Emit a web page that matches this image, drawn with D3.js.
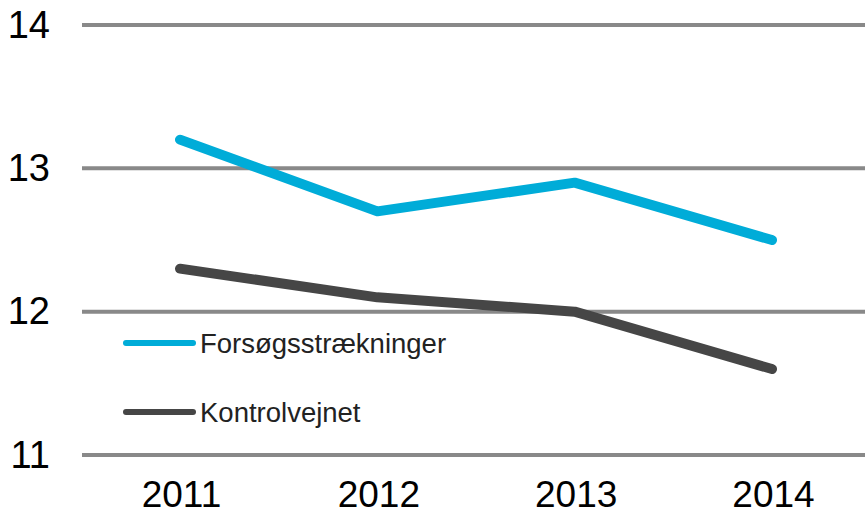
<!DOCTYPE html>
<html>
<head>
<meta charset="utf-8">
<script src="https://cdn.jsdelivr.net/npm/d3@7"></script>
<style>
  body { margin: 0; background: #fff; }
  svg text { font-family: "Liberation Sans", Arial, sans-serif; }
</style>
</head>
<body>
<div id="chart"></div>
<script>
const years = ["2011", "2012", "2013", "2014"];
const forsoeg = [13.2, 12.7, 12.9, 12.5];
const kontrol = [12.3, 12.1, 12.0, 11.6];
const y_ticks = [11, 12, 13, 14];
const series_names = ["Forsøgsstrækninger", "Kontrolvejnet"];

const width = 865;
const height = 515;

let svg = d3.select("#chart").append("svg")
    .attr("width", width)
    .attr("height", height);

let x = d3.scalePoint().domain(years).range([180, 772]);
let y = d3.scaleLinear().domain([11, 14]).range([455, 25]);

// gridlines
svg.append("g")
  .selectAll("line")
  .data(y_ticks)
  .enter().append("line")
    .attr("x1", 82)
    .attr("x2", width)
    .attr("y1", function(d) { return y(d); })
    .attr("y2", function(d) { return y(d); })
    .attr("stroke", "#898989")
    .attr("stroke-width", 4);

// y labels
let y_axis = svg.append("g")
    .attr("transform", "translate(50,0)")
    .call(d3.axisLeft(y).tickValues(y_ticks).tickSize(0).tickPadding(0).tickFormat(d3.format("d")));
y_axis.select(".domain").remove();
y_axis.selectAll("text")
    .attr("font-size", 38)
    .attr("fill", "#000")
    .attr("font-family", "Liberation Sans, Arial, sans-serif");

// x labels
let x_axis = svg.append("g")
    .attr("transform", "translate(1,507)")
    .call(d3.axisBottom(x).tickSize(0).tickPadding(0));
x_axis.select(".domain").remove();
x_axis.selectAll("text")
    .attr("font-size", 37)
    .attr("y", 0)
    .attr("dy", 0)
    .attr("fill", "#000")
    .attr("font-family", "Liberation Sans, Arial, sans-serif");

const colors = ["#00acd8", "#464646"];
const values = [forsoeg, kontrol];

let line = d3.line()
    .x(function(d, i) { return x(years[i]); })
    .y(function(d) { return y(d); });

values.forEach(function(v, i) {
  svg.append("path")
    .datum(v)
    .attr("d", line)
    .attr("fill", "none")
    .attr("stroke", colors[i])
    .attr("stroke-width", 10)
    .attr("stroke-linecap", "round")
    .attr("stroke-linejoin", "round");
});

// legend
let legend = svg.append("g");
const legend_y = [343, 412];
series_names.forEach(function(name, i) {
  legend.append("line")
    .attr("x1", 126)
    .attr("x2", 193)
    .attr("y1", legend_y[i])
    .attr("y2", legend_y[i])
    .attr("stroke", colors[i])
    .attr("stroke-width", 6)
    .attr("stroke-linecap", "round");
  legend.append("text")
    .attr("x", 200)
    .attr("y", legend_y[i] + 10)
    .attr("font-size", 27.5)
    .attr("fill", "#222")
    .text(name);
});
</script>
</body>
</html>
